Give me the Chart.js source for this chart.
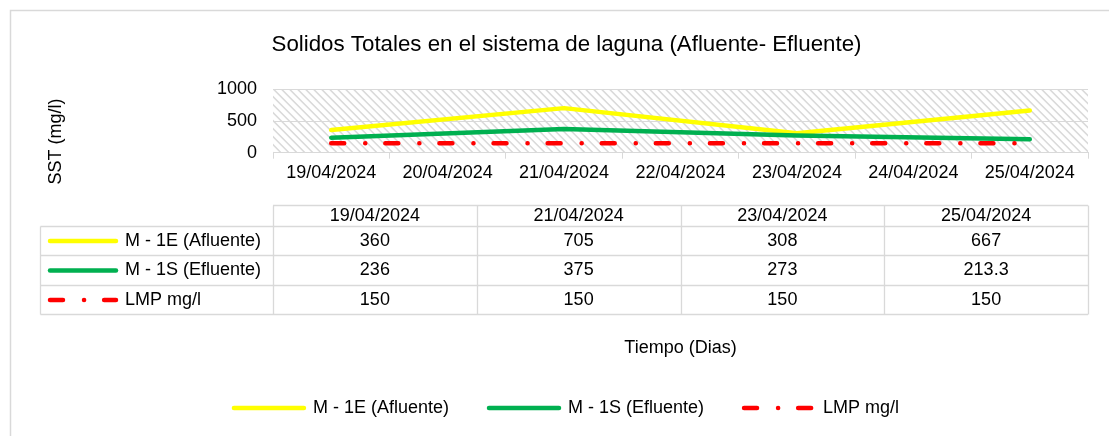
<!DOCTYPE html>
<html>
<head>
<meta charset="utf-8">
<script src="https://cdn.jsdelivr.net/npm/chart.js@4.4.1/dist/chart.umd.min.js"></script>
<style>
  html, body { margin: 0; padding: 0; background: #fff; overflow: hidden; }
  #canvasSolidos { display: block; }
</style>
</head>
<body>
<canvas id="canvasSolidos" width="1109" height="436"></canvas>
<script>
// dias del eje (categorias)
var diasEje = ['19/04/2024', '20/04/2024', '21/04/2024', '22/04/2024', '23/04/2024', '24/04/2024', '25/04/2024'];
// fechas de muestreo (tabla de datos)
var fechasMuestreo = ['19/04/2024', '21/04/2024', '23/04/2024', '25/04/2024'];
var afluente = [360, 705, 308, 667];
var efluente = [236, 375, 273, 213.3];
var lmp = [150, 150, 150, 150];
var ticksY = [0, 500, 1000];

var fuente = '"Liberation Sans", Arial, sans-serif';
var gris = '#d9d9d9';

function puntos(valores){
	return fechasMuestreo.map(function(f, i){
		return { x: f, y: valores[i] };
	});
}

var series = [
	{ label: 'M - 1E (Afluente)', valores: afluente, color: '#FFFF00', dash: [], order: 3 },
	{ label: 'M - 1S (Efluente)', valores: efluente, color: '#00B050', dash: [], order: 2 },
	{ label: 'LMP mg/l', valores: lmp, color: '#FF0000', dash: [13, 21, 0.1, 20], order: 1 }
];

var toLineas = [];
series.forEach(function(s){
	toLineas.push({
		label: s.label,
		data: puntos(s.valores),
		borderColor: s.color,
		backgroundColor: s.color,
		borderWidth: 4.5,
		borderDash: s.dash,
		borderCapStyle: 'round',
		borderJoinStyle: 'round',
		pointRadius: 0,
		tension: 0,
		fill: false,
		order: s.order
	});
});

// fondo rayado, borde exterior, tabla de datos y titulo del eje Y
var tablaPlugin = {
	id: 'tablaDatos',
	beforeDraw: function(chart){
		var ctx = chart.ctx;
		var ca = chart.chartArea;
		ctx.save();
		ctx.strokeStyle = gris;
		ctx.lineWidth = 1.5;
		ctx.beginPath();
		ctx.moveTo(10.5, 436);
		ctx.lineTo(10.5, 10.5);
		ctx.lineTo(1109, 10.5);
		ctx.stroke();

		ctx.beginPath();
		ctx.rect(ca.left, ca.top, ca.right - ca.left, ca.bottom - ca.top);
		ctx.clip();
		ctx.strokeStyle = '#dadada';
		ctx.lineWidth = 1.6;
		var h = ca.bottom - ca.top;
		ctx.beginPath();
		for (var k = -h; k < ca.right - ca.left + h; k += 8) {
			ctx.moveTo(ca.left + k, ca.top);
			ctx.lineTo(ca.left + k + h, ca.bottom);
		}
		ctx.stroke();
		ctx.restore();
	},
	afterDraw: function(chart){
		var ctx = chart.ctx;
		var ca = chart.chartArea;
		var colW = (ca.right - ca.left) / fechasMuestreo.length;
		var yCab = 205.5;
		var filas = [226.5, 255.5, 285.5, 314.5];
		var xIzq = 40.5;

		ctx.save();
		ctx.strokeStyle = gris;
		ctx.lineWidth = 1.3;
		ctx.beginPath();
		ctx.moveTo(ca.left, yCab);
		ctx.lineTo(ca.right, yCab);
		filas.forEach(function(y){
			ctx.moveTo(xIzq, y);
			ctx.lineTo(ca.right, y);
		});
		ctx.moveTo(xIzq, filas[0]);
		ctx.lineTo(xIzq, filas[filas.length - 1]);
		for (var i = 0; i <= fechasMuestreo.length; i++) {
			var x = Math.round(ca.left + i * colW) + 0.5;
			ctx.moveTo(x, yCab);
			ctx.lineTo(x, filas[filas.length - 1]);
		}
		ctx.stroke();

		ctx.fillStyle = '#000';
		ctx.font = '18px ' + fuente;
		ctx.textBaseline = 'middle';
		ctx.textAlign = 'center';
		fechasMuestreo.forEach(function(f, i){
			ctx.fillText(f, ca.left + (i + 0.5) * colW, (yCab + filas[0]) / 2);
		});

		series.forEach(function(s, r){
			var yc = (filas[r] + filas[r + 1]) / 2;
			ctx.textAlign = 'center';
			s.valores.forEach(function(v, i){
				ctx.fillText(String(v), ca.left + (i + 0.5) * colW, yc);
			});
			// clave de la serie
			ctx.save();
			ctx.strokeStyle = s.color;
			ctx.lineWidth = 4.5;
			ctx.lineCap = 'round';
			ctx.setLineDash(s.dash);
			ctx.beginPath();
			ctx.moveTo(50, yc);
			ctx.lineTo(116, yc);
			ctx.stroke();
			ctx.restore();
			ctx.textAlign = 'left';
			ctx.fillText(s.label, 125, yc);
		});

		// titulo eje Y
		ctx.translate(56.5, 141.5);
		ctx.rotate(-Math.PI / 2);
		ctx.textAlign = 'center';
		ctx.fillText('SST (mg/l)', 0, 0);
		ctx.restore();
	}
};

function reportSolidos(){
	Chart.defaults.font.family = fuente;
	Chart.defaults.color = '#000';

	var ctx = document.getElementById('canvasSolidos').getContext('2d');
	window.myLine = new Chart(ctx, {
		type: 'line',
		data: {
			labels: diasEje,
			datasets: toLineas
		},
		plugins: [tablaPlugin],
		options: {
			responsive: false,
			animation: false,
			layout: {
				padding: { left: 24, right: 0, top: 0, bottom: 9 }
			},
			plugins: {
				title: {
					display: true,
					text: 'Solidos Totales en el sistema de laguna (Afluente- Efluente)',
					font: { size: 22.3, weight: 'normal' },
					padding: { top: 31.6, bottom: 31.1 }
				},
				legend: {
					position: 'bottom',
					labels: {
						font: { size: 18 },
						usePointStyle: true,
						pointStyle: 'line',
						pointStyleWidth: 70,
						padding: 40,
						sort: function(a, b){ return a.datasetIndex - b.datasetIndex; },
						generateLabels: function(chart){
							var items = Chart.defaults.plugins.legend.labels.generateLabels(chart);
							items.forEach(function(it){
								var ds = chart.data.datasets[it.datasetIndex];
								it.strokeStyle = ds.borderColor;
								it.lineWidth = ds.borderWidth;
								it.lineDash = ds.borderDash;
								it.lineCap = 'round';
							});
							return items;
						}
					}
				},
				tooltip: { enabled: false }
			},
			scales: {
				x: {
					type: 'category',
					offset: true,
					grid: {
						offset: true,
						drawOnChartArea: false,
						drawTicks: true,
						tickLength: 6,
						color: gris
					},
					border: { display: true, color: gris, width: 1 },
					ticks: { font: { size: 18 }, maxRotation: 0, autoSkip: false, padding: 4 },
					title: {
						display: true,
						text: 'Tiempo (Dias)',
						font: { size: 18 },
						padding: { top: 0, bottom: 0 }
					},
					afterFit: function(s){ s.height = 206.3; }
				},
				y: {
					min: ticksY[0],
					max: ticksY[ticksY.length - 1],
					ticks: {
						stepSize: ticksY[1] - ticksY[0],
						font: { size: 18 },
						padding: 16,
						callback: function(v){ return String(v); }
					},
					grid: { color: gris, drawTicks: false },
					border: { display: false },
					afterFit: function(s){ s.width = 249; }
				},
				yPad: {
					type: 'linear',
					position: 'right',
					grid: { display: false },
					border: { display: false },
					ticks: { display: false },
					afterFit: function(s){ s.width = 21; }
				}
			}
		}
	});
}

window.onload = function() {
	reportSolidos();
};
</script>
</body>
</html>
